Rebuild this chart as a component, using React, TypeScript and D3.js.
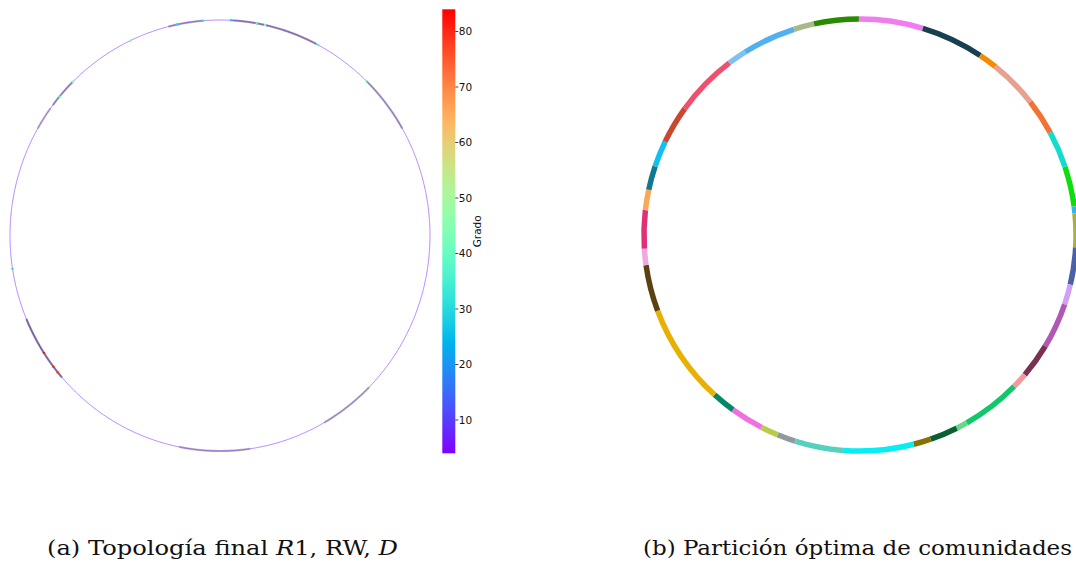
import React from "react";
import * as d3 from "d3";

// ---------- data ----------
const colorbarTicks = [10, 20, 30, 40, 50, 60, 70, 80];
const degreeDomain = [4, 84];
const colorbarLabel = "Grado";

// left panel: circular layout of the network
const baseDegree = 6;
const bundleStart = [346, 3.6, 45, 135, 172, 229, 300, 307.5];
const bundleEnd = [355, 27, 60, 150, 191, 247, 306, 315.3];
const bundleWeight = [0.4, 0.5, 0.4, 0.35, 0.35, 0.6, 0.3, 0.45];
const hubAngles = [334.7, 348.2, 355.4, 3.0, 10.1, 12.4, 27.8, 44.5, 315.5, 310.2, 261.1, 237.0, 232.5, 230.6];
const hubDegrees = [42, 30, 32, 28, 38, 45, 36, 30, 44, 40, 30, 82, 80, 78];

// right panel: optimal community partition (angles in degrees, clockwise from top)
const communityStart = [-0.3, 16.9, 33.8, 38.8, 52.0, 61.7, 71.6, 82.4, 84.3, 93.3, 103.3, 108.7, 121.0, 130.3, 134.5, 150.4, 153.4, 160.9, 165.6, 184.5, 197.5, 202.4, 207.1, 216.0, 222.3, 249.5, 262.0, 266.4, 276.6, 282.1, 288.5, 295.6, 305.8, 322.8, 327.9, 342.2, 347.7];
const communityEnd = [16.9, 33.8, 38.8, 52.0, 61.7, 71.6, 82.4, 84.3, 93.3, 103.3, 108.7, 121.0, 130.3, 134.5, 150.4, 153.4, 160.9, 165.6, 184.5, 197.5, 202.4, 207.1, 216.0, 222.3, 249.5, 262.0, 266.4, 276.6, 282.1, 288.5, 295.6, 305.8, 322.8, 327.9, 342.2, 347.7, 359.7];
const communityColors = [
  "#f07cf0", "#173f4f", "#f58c00", "#e8a090", "#f37232", "#14dccc", "#10dd10", "#30b8e8",
  "#a8b040", "#4863a8", "#d0a0f4", "#b058b4", "#7a3050", "#f498a0", "#10c868", "#68d888",
  "#0a6030", "#8a7000", "#08ecf4", "#58d0c0", "#9098a0", "#b8cc48", "#f070e0", "#008868",
  "#e8b000", "#5a4210", "#f0a8e0", "#e03078", "#f8a858", "#107890", "#10c0f0", "#c84830",
  "#f05070", "#80c0f0", "#50b0f0", "#a8b888", "#2a8a00",
];

const captionA = ["(a) Topología final ", "R", "1, RW, ", "D"];
const captionB = "(b) Partición óptima de comunidades";

// ---------- helpers ----------
function rainbow(t: number): string {
  const x = Math.max(0, Math.min(1, t));
  const r = Math.min(1, Math.abs(2 * x - 0.5));
  const g = Math.sin(Math.PI * x);
  const b = Math.cos((Math.PI * x) / 2);
  return d3.rgb(r * 255, g * 255, Math.max(0, b) * 255).formatHex();
}

const W = 1076;
const H = 570;

export default function App() {
  // left panel geometry
  const lcx = 220, lcy = 235.5, lrx = 210, lry = 215.5;
  const norm = d3.scaleLinear().domain(degreeDomain).range([0, 1]);
  const degColor = (d: number) => rainbow(norm(d));
  const ellipsePt = (deg: number): [number, number] => {
    const a = (deg * Math.PI) / 180;
    return [lcx + lrx * Math.sin(a), lcy - lry * Math.cos(a)];
  };
  const line = d3.line<number>().x((a) => ellipsePt(a)[0]).y((a) => ellipsePt(a)[1]).curve(d3.curveLinear);
  const arcPath = (s: number, e: number) => line(d3.range(s, e + 0.25, 0.25)) || "";

  // colorbar
  const cbX = 442.3, cbW = 13, cbTop = 9.3, cbBot = 453.3;
  const cbScale = d3.scaleLinear().domain(degreeDomain).range([cbBot, cbTop]);
  const gradStops = d3.range(0, 1.0001, 0.05);

  // right panel
  const rcx = 860, rcy = 235, rIn = 213.3, rOut = 218.8;
  const arc = d3.arc<any>().innerRadius(rIn).outerRadius(rOut);
  const toRad = (d: number) => (d * Math.PI) / 180;

  return (
    <svg width={W} height={H} style={{ position: "absolute", left: 0, top: 0, background: "#fff" }}
      xmlns="http://www.w3.org/2000/svg">
      <defs>
        <linearGradient id="cbgrad" x1="0" y1="1" x2="0" y2="0">
          {gradStops.map((t) => (
            <stop key={t} offset={`${t * 100}%`} stopColor={rainbow(t)} />
          ))}
        </linearGradient>
      </defs>

      {/* left panel network */}
      <g>
        {bundleStart.map((s, i) => (
          <path key={i} d={arcPath(s, bundleEnd[i])} fill="none" stroke="#3a3a4a"
            strokeOpacity={bundleWeight[i]} strokeWidth={2.2} strokeLinecap="round" />
        ))}
        <path d={arcPath(0, 360)} fill="none" stroke={degColor(baseDegree)} strokeOpacity={0.5} strokeWidth={1} />
        {hubAngles.map((a, i) => {
          const [x, y] = ellipsePt(a);
          return <circle key={i} cx={x} cy={y} r={1.2} fill={degColor(hubDegrees[i])} />;
        })}
      </g>

      {/* colorbar */}
      <g fontFamily="DejaVu Sans, sans-serif" fontSize={10.5} fill="#111">
        <rect x={cbX} y={cbTop} width={cbW} height={cbBot - cbTop} fill="url(#cbgrad)" />
        {colorbarTicks.map((t) => (
          <g key={t} transform={`translate(${cbX + cbW},${cbScale(t)})`}>
            <line x1={0} x2={3} stroke="#111" strokeWidth={0.8} />
            <text x={3.5} dy="0.35em">{t}</text>
          </g>
        ))}
        <text transform={`translate(481,${(cbTop + cbBot) / 2}) rotate(-90)`} textAnchor="middle">{colorbarLabel}</text>
      </g>

      {/* right panel communities */}
      <g transform={`translate(${rcx},${rcy})`}>
        {communityStart.map((s, i) => (
          <path key={i}
            d={arc({ startAngle: toRad(s), endAngle: toRad(communityEnd[i]) }) || ""}
            fill={communityColors[i]} />
        ))}
      </g>

      {/* captions */}
      <g fontFamily="'DejaVu Serif', serif" fontSize={19.5} fill="#111">
        <text x={47} y={555} textLength={351} lengthAdjust="spacingAndGlyphs">
          <tspan>{captionA[0]}</tspan>
          <tspan fontStyle="italic">{captionA[1]}</tspan>
          <tspan>{captionA[2]}</tspan>
          <tspan fontStyle="italic">{captionA[3]}</tspan>
        </text>
        <text x={643} y={555} textLength={429} lengthAdjust="spacingAndGlyphs">{captionB}</text>
      </g>
    </svg>
  );
}
